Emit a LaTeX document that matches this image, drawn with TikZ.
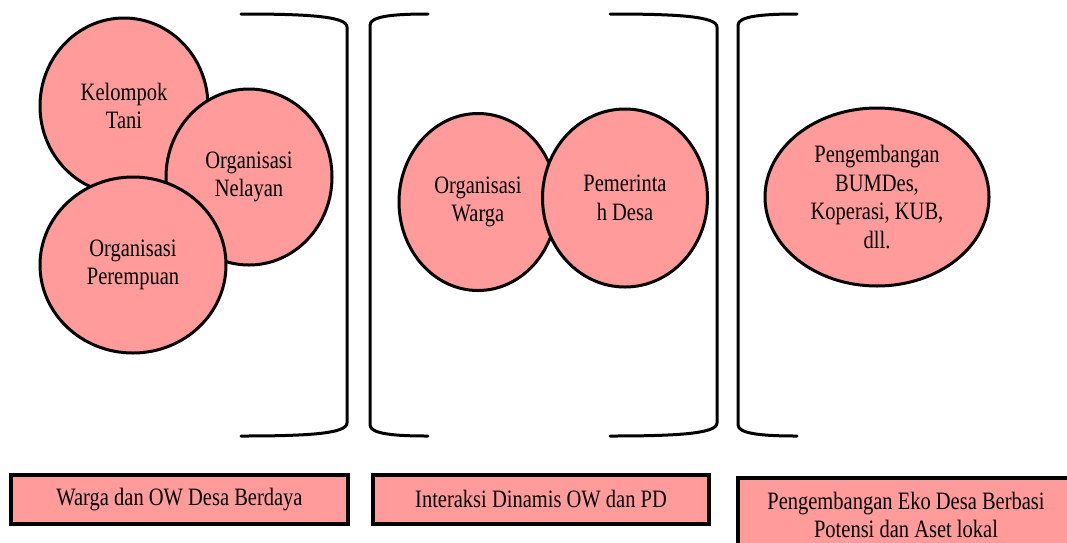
\documentclass[tikz,border=0pt]{standalone}
\usepackage{fontspec}
\setmainfont{Liberation Serif}[FakeStretch=0.82]
\usetikzlibrary{shapes.geometric}
\definecolor{blobfill}{RGB}{255,155,155}
\begin{document}
\begin{tikzpicture}[x=1pt,y=-1pt,
  blob/.style={ellipse, draw=black, line width=3pt, fill=blobfill,
    inner sep=0pt, align=center, font=\fontsize{25}{28.5}\selectfont},
  capbox/.style={rectangle, draw=black, line width=3.5pt, fill=blobfill,
    inner sep=0pt, minimum height=49pt},
  captext/.style={align=center, inner sep=0pt, font=\fontsize{25}{28}\selectfont},
  brk/.style={line width=3pt, line cap=round}]
\useasboundingbox (0,0) rectangle (1067,542);
\clip (0,0) rectangle (1067,542);

% --- brackets ---
\draw[brk] (241,14) .. controls (305,14) and (347,16) .. (347,27)
  -- (347,423) .. controls (347,434) and (305,436) .. (241,436);
\draw[brk] (428,14) .. controls (395,14) and (370,16) .. (370,25)
  -- (370,425) .. controls (370,434) and (395,436) .. (428,436);
\draw[brk] (610,14) .. controls (674,14) and (717,16) .. (717,27)
  -- (717,423) .. controls (717,434) and (674,436) .. (610,436);
\draw[brk] (797,14) .. controls (764,14) and (738,16) .. (738,25)
  -- (738,425) .. controls (738,434) and (764,436) .. (797,436);

% --- first group: village organisations ---
\node[blob, minimum width=168pt, minimum height=176pt] (tani) at (124,106)
  {Kelompok\\Tani};
\node[blob, minimum width=166pt, minimum height=176pt] (nelayan) at (249,177)
  {Organisasi\\Nelayan};
\node[blob, minimum width=186pt, minimum height=176pt] (perempuan) at (133,265)
  {Organisasi\\Perempuan};

% --- second group: citizens and village government ---
\node[blob, minimum width=158pt, minimum height=177pt] (warga) at (478,202)
  {Organisasi\\Warga};
\node[blob, minimum width=165pt, minimum height=178pt] (pemdes) at (625,198)
  {Pemerinta\\h Desa};

% --- third group: local economy ---
\node[blob, minimum width=224pt, minimum height=178pt] (bumdes) at (877,197)
  {Pengembangan\\BUMDes,\\Koperasi, KUB,\\dll.};

% --- captions ---
\node[capbox, minimum width=337pt] (cap1) at (179.5,499.5) {};
\node[captext] (cap1t) at (cap1) {Warga dan OW Desa Berdaya};
\node[capbox, minimum width=336pt] (cap2) at (541,499.5) {};
\node[captext] (cap2t) at (cap2) {Interaksi Dinamis OW dan PD};
\node[capbox, minimum width=336pt, minimum height=90pt, anchor=north] (cap3) at (906,476) {};
\node[captext] (cap3t) at (906,515) {Pengembangan Eko Desa Berbasi\\Potensi dan Aset lokal};
\end{tikzpicture}
\end{document}
